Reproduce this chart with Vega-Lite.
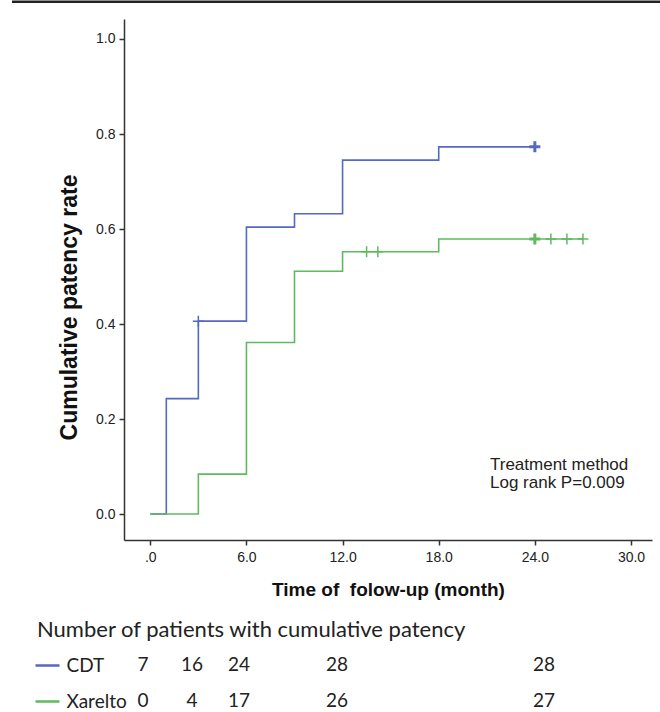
{
  "$schema": "https://vega.github.io/schema/vega-lite/v6.json",
  "background": "white",
  "padding": {"left": 10, "top": 0, "right": 0, "bottom": 2},
  "bounds": "flush",
  "spacing": 107,
  "config": {"view": {"stroke": null}, "font": "Liberation Sans"},
  "datasets": {
    "km": [
      {"group": "CDT", "month": 0, "rate": 0},
      {"group": "CDT", "month": 1, "rate": 0.243},
      {"group": "CDT", "month": 3, "rate": 0.406},
      {"group": "CDT", "month": 6, "rate": 0.604},
      {"group": "CDT", "month": 9, "rate": 0.632},
      {"group": "CDT", "month": 12, "rate": 0.745},
      {"group": "CDT", "month": 18, "rate": 0.773},
      {"group": "CDT", "month": 24, "rate": 0.773},
      {"group": "Xarelto", "month": 0, "rate": 0},
      {"group": "Xarelto", "month": 3, "rate": 0.084},
      {"group": "Xarelto", "month": 6, "rate": 0.361},
      {"group": "Xarelto", "month": 9, "rate": 0.511},
      {"group": "Xarelto", "month": 12, "rate": 0.552},
      {"group": "Xarelto", "month": 18, "rate": 0.579},
      {"group": "Xarelto", "month": 27, "rate": 0.579}
    ],
    "censor": [
      {"group": "CDT", "month": 3, "rate": 0.406, "n": 1},
      {"group": "CDT", "month": 24, "rate": 0.773, "n": 3},
      {"group": "Xarelto", "month": 13.5, "rate": 0.552, "n": 1},
      {"group": "Xarelto", "month": 14.2, "rate": 0.552, "n": 1},
      {"group": "Xarelto", "month": 24, "rate": 0.579, "n": 3},
      {"group": "Xarelto", "month": 25, "rate": 0.579, "n": 1},
      {"group": "Xarelto", "month": 26, "rate": 0.579, "n": 1},
      {"group": "Xarelto", "month": 27, "rate": 0.579, "n": 1}
    ],
    "table": [
      {"group": "CDT", "month": 1, "n": 7},
      {"group": "CDT", "month": 3, "n": 16},
      {"group": "CDT", "month": 6, "n": 24},
      {"group": "CDT", "month": 12, "n": 28},
      {"group": "CDT", "month": 24, "n": 28},
      {"group": "Xarelto", "month": 1, "n": 0},
      {"group": "Xarelto", "month": 3, "n": 4},
      {"group": "Xarelto", "month": 6, "n": 17},
      {"group": "Xarelto", "month": 12, "n": 26},
      {"group": "Xarelto", "month": 24, "n": 27}
    ]
  },
  "vconcat": [
    {
      "width": 528,
      "height": 521,
      "layer": [
        {
          "encoding": {
            "x": {
              "field": "month", "type": "quantitative",
              "scale": {"domain": [-1.64, 31.31], "nice": false, "zero": false},
              "axis": {
                "values": [0, 6, 12, 18, 24, 30],
                "labelExpr": "datum.value == 0 ? '.0' : format(datum.value, '.1f')",
                "title": "Time of\u00a0 folow-up (month)",
                "grid": false, "domainColor": "#333", "domainWidth": 1.5,
                "tickColor": "#333", "tickWidth": 1.5, "tickSize": 5,
                "labelFontSize": 14, "labelColor": "#222", "labelPadding": 5,
                "titleFontSize": 19, "titleFontWeight": "bold", "titleColor": "#111", "titlePadding": 16
              }
            },
            "y": {
              "field": "rate", "type": "quantitative",
              "scale": {"domain": [-0.0547, 1.0421], "nice": false, "zero": false},
              "axis": {
                "values": [0, 0.2, 0.4, 0.6, 0.8, 1.0],
                "format": ".1f",
                "title": "Cumulative patency rate",
                "grid": false, "domainColor": "#333", "domainWidth": 1.5,
                "tickColor": "#333", "tickWidth": 1.5, "tickSize": 5,
                "labelFontSize": 14, "labelColor": "#222", "labelPadding": 4,
                "titleFontSize": 23, "titleFontWeight": "bold", "titleColor": "#111", "titlePadding": 14,
                "titleY": 288
              }
            },
            "color": {
              "field": "group", "type": "nominal",
              "scale": {"domain": ["CDT", "Xarelto"], "range": ["#5568c2", "#5fba5f"]},
              "legend": null
            }
          },
          "layer": [
            {
              "data": {"name": "km"},
              "mark": {"type": "line", "interpolate": "step-after", "strokeWidth": 1.6}
            },
            {
              "data": {"name": "censor"},
              "mark": {"type": "point", "shape": "M0,-1V1M-1,0H1", "filled": false, "size": 121, "opacity": 1},
              "encoding": {
                "strokeWidth": {"field": "n", "type": "quantitative", "scale": {"domain": [1, 3], "range": [1.5, 3]}, "legend": null}
              }
            }
          ]
        },
        {
          "data": {"values": [{}]},
          "mark": {"type": "text", "align": "left", "baseline": "middle", "fontSize": 17, "lineHeight": 18, "color": "#222"},
          "encoding": {
            "x": {"datum": 21.2},
            "y": {"datum": 0.103},
            "text": {"value": ["Treatment method", "Log rank P=0.009"]}
          }
        },
        {
          "data": {"values": [{}]},
          "mark": {"type": "rule", "clip": false, "color": "#222", "strokeWidth": 2.6},
          "encoding": {
            "x": {"datum": -8.63},
            "x2": {"datum": 31.94},
            "y": {"datum": 1.0785}
          }
        }
      ]
    },
    {
      "width": 528,
      "height": 72,
      "title": {
        "text": "Number of patients with cumulative patency",
        "anchor": "start", "frame": "group", "dx": -87, "offset": -12, "baseline": "alphabetic",
        "font": "Lato", "fontSize": 22, "fontWeight": "normal", "color": "#222"
      },
      "data": {"name": "table"},
      "mark": {"type": "text", "font": "Lato", "fontSize": 19, "color": "#222", "baseline": "middle"},
      "encoding": {
        "x": {
          "field": "month", "type": "quantitative",
          "scale": {"domain": [1, 3, 6, 12, 24], "range": [19, 68, 115, 213, 420]},
          "axis": null
        },
        "y": {
          "field": "group", "type": "nominal",
          "scale": {"type": "point", "domain": ["CDT", "Xarelto"], "padding": 0.5},
          "axis": {
            "title": null, "domain": false, "grid": false, "offset": 65,
            "tickSize": 24, "tickWidth": 2.5,
            "tickColor": {"condition": {"test": "datum.value === 'CDT'", "value": "#5568c2"}, "value": "#5fba5f"},
            "labelAlign": "left", "labelPadding": -31, "labelBaseline": "middle",
            "labelFont": "Lato", "labelFontSize": 19, "labelColor": "#222"
          }
        },
        "text": {"field": "n", "type": "quantitative"}
      }
    }
  ]
}
